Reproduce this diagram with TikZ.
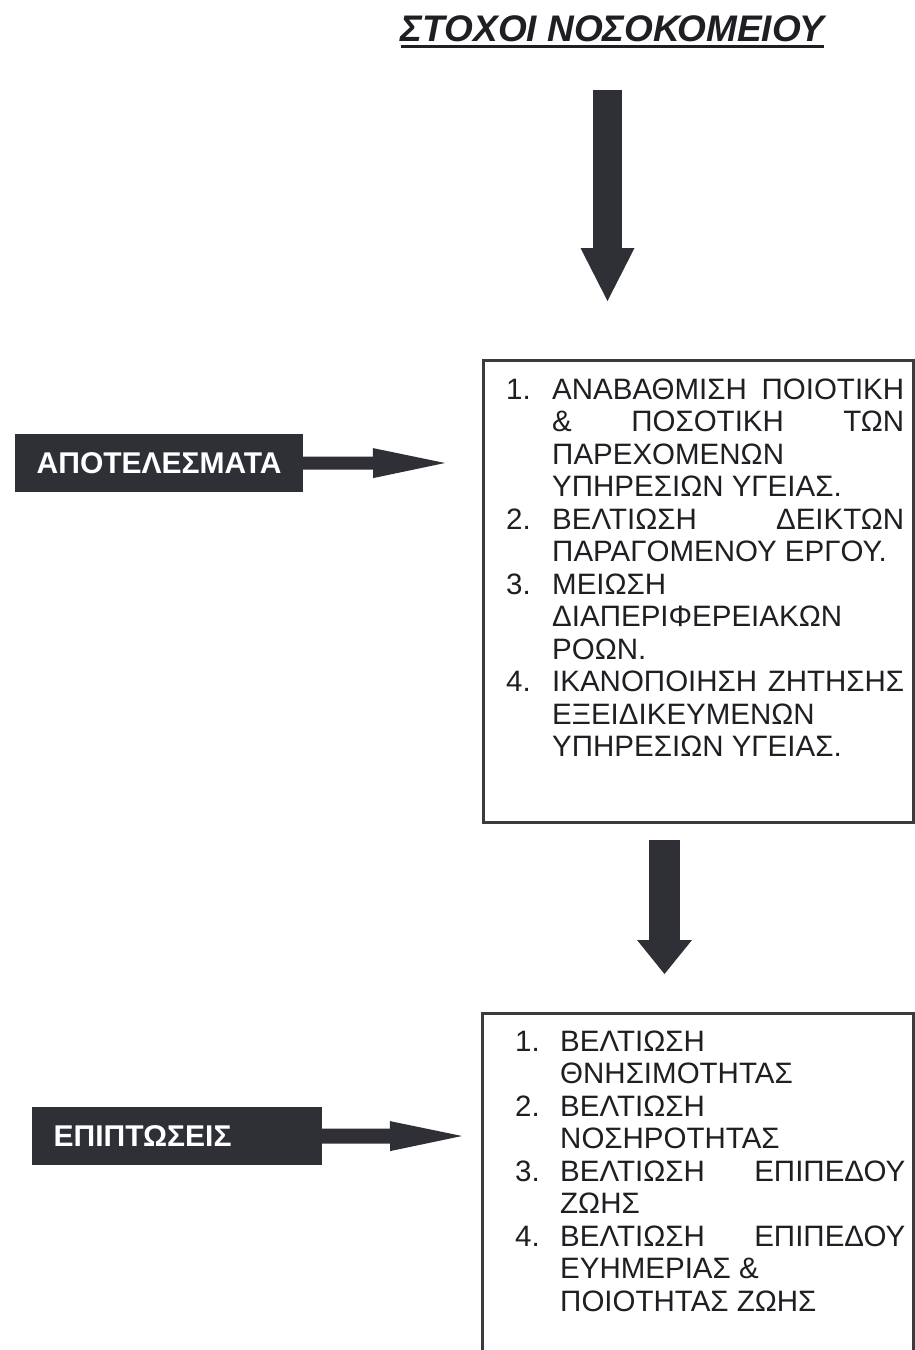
\documentclass[tikz,border=0pt]{standalone}
\usepackage{fontspec}
\setmainfont{Liberation Sans}
\usetikzlibrary{arrows.meta}

\definecolor{inkdark}{HTML}{2E3035}
\definecolor{framegray}{HTML}{3A3B3F}
\definecolor{textink}{HTML}{1E1F22}

% one row of a numbered list: number in a fixed column, then the text;
% \hfill inside the text spreads a justified row, otherwise it stays left
\newdimen\numw
\newcommand\listrow[2]{\hbox to\hsize{\hbox to\numw{#1\hfil}#2\hskip0pt plus 1fil}}
\newcommand\listcont[1]{\listrow{}{#1}}

\begin{document}
\begin{tikzpicture}[x=1pt,y=-1pt,
  flowarrow/.style={draw=inkdark},
  tagbox/.style={fill=inkdark, text=white, font=\bfseries\fontsize{30}{32}\selectfont,
    inner xsep=21.5pt, inner ysep=0pt, minimum height=58pt, align=left, anchor=north west},
  outlinebox/.style={draw=framegray, line width=2.6pt, inner sep=0pt, anchor=north west},
  listtext/.style={text=textink, inner sep=0pt, anchor=base west,
    font=\fontsize{29.5}{32.5}\selectfont}]

\useasboundingbox (0,0) rectangle (915,1350);
\fill[white] (0,0) rectangle (915,1350);
\clip (0,0) rectangle (915,1350);

% heading
\node[anchor=base, font=\bfseries\itshape\fontsize{37}{40}\selectfont, text=textink, inner sep=0pt]
  (title) at (612.5,41) {ΣΤΟΧΟΙ ΝΟΣΟΚΟΜΕΙΟΥ};
\draw[textink, line width=3pt] ([yshift=-5pt]title.base west) -- ([yshift=-5pt]title.base east);

% results box
\node[outlinebox, minimum width=430pt, minimum height=462pt] (box1) at (482,359) {};
\node[listtext] (list1) at (506,399) {\vtop{\hsize=398pt\numw=46pt
  \listrow{1.}{ΑΝΑΒΑΘΜΙΣΗ\hfill ΠΟΙΟΤΙΚΗ}
  \listcont{\&\hfill ΠΟΣΟΤΙΚΗ\hfill ΤΩΝ}
  \listcont{ΠΑΡΕΧΟΜΕΝΩΝ}
  \listcont{ΥΠΗΡΕΣΙΩΝ ΥΓΕΙΑΣ.}
  \listrow{2.}{ΒΕΛΤΙΩΣΗ\hfill ΔΕΙΚΤΩΝ}
  \listcont{ΠΑΡΑΓΟΜΕΝΟΥ ΕΡΓΟΥ.}
  \listrow{3.}{ΜΕΙΩΣΗ}
  \listcont{ΔΙΑΠΕΡΙΦΕΡΕΙΑΚΩΝ}
  \listcont{ΡΟΩΝ.}
  \listrow{4.}{ΙΚΑΝΟΠΟΙΗΣΗ\hfill ΖΗΤΗΣΗΣ}
  \listcont{ΕΞΕΙΔΙΚΕΥΜΕΝΩΝ}
  \listcont{ΥΠΗΡΕΣΙΩΝ ΥΓΕΙΑΣ.}}};

% impacts box (runs past the lower edge)
\node[outlinebox, minimum width=431pt, minimum height=400pt] (box2) at (481,1012) {};
\node[listtext] (list2) at (515,1051) {\vtop{\hsize=390pt\numw=45pt
  \listrow{1.}{ΒΕΛΤΙΩΣΗ}
  \listcont{ΘΝΗΣΙΜΟΤΗΤΑΣ}
  \listrow{2.}{ΒΕΛΤΙΩΣΗ}
  \listcont{ΝΟΣΗΡΟΤΗΤΑΣ}
  \listrow{3.}{ΒΕΛΤΙΩΣΗ\hfill ΕΠΙΠΕΔΟΥ}
  \listcont{ΖΩΗΣ}
  \listrow{4.}{ΒΕΛΤΙΩΣΗ\hfill ΕΠΙΠΕΔΟΥ}
  \listcont{ΕΥΗΜΕΡΙΑΣ \&}
  \listcont{ΠΟΙΟΤΗΤΑΣ ΖΩΗΣ}}};

% dark side labels
\node[tagbox, text width=245pt] (res) at (15,434) {ΑΠΟΤΕΛΕΣΜΑΤΑ};
\node[tagbox, text width=247pt] (imp) at (32,1107) {ΕΠΙΠΤΩΣΕΙΣ};

% thick downward arrows
\coordinate (a1s) at (607.5,90);
\coordinate (a1e) at (607.5,301);
\draw[flowarrow, line width=29pt, -{Triangle[width=54pt,length=53pt,line width=0pt]}] (a1s) -- (a1e);
\coordinate (a2s) at (664.5,840);
\coordinate (a2e) at (664.5,974);
\draw[flowarrow, line width=31pt, -{Triangle[width=55pt,length=34pt,line width=0pt]}] (a2s) -- (a2e);

% label arrows
\coordinate (t1) at (445,463);
\draw[flowarrow, line width=13pt, -{Triangle[width=30pt,length=72pt,line width=0pt]}] ([xshift=-1pt]res.east) -- (t1);
\coordinate (t2) at (462,1136);
\draw[flowarrow, line width=15pt, -{Triangle[width=30pt,length=72pt,line width=0pt]}] ([xshift=-1pt]imp.east) -- (t2);
\end{tikzpicture}
\end{document}
